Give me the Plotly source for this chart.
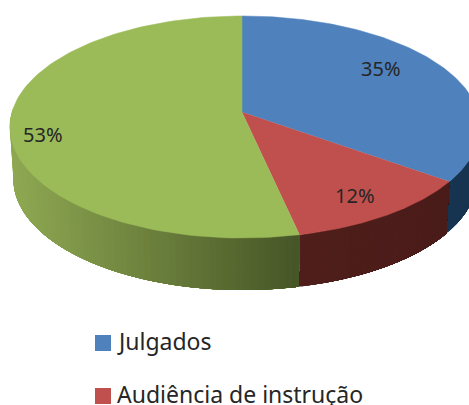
import math
import plotly.graph_objects as go

categories = ["Julgados", "Audiência de instrução", "Outros"]
values = [35.0, 11.6, 53.4]
top_colors = ["#4f81bd", "#c0504d", "#9bbb59"]
wall_light = [(23, 52, 80), (80, 31, 28), (142, 168, 82)]
wall_dark = [(23, 52, 80), (74, 28, 25), (70, 84, 38)]
legend_names = categories[:2]

CX, CY = 242, 112
A, B_R, B_L, K = 109, 236, 230, 0.135
DEPTH, SHRINK = 52, 0.985


def project(theta, lower=False):
    X, Y = math.sin(theta), math.cos(theta)
    d = 1 + K * Y
    x, y = (B_R if X > 0 else B_L) * X / d, -A * Y / d
    if lower:
        return CX + x * SHRINK, CY + y + DEPTH
    return CX + x, CY + y


fig = go.Figure()
total = sum(values)
edges = [0]
for v in values:
    edges.append(edges[-1] + v / total * 2 * math.pi)


def poly(pts, color, lw=0.0):
    fig.add_trace(go.Scatter(x=[p[0] for p in pts], y=[p[1] for p in pts], mode="lines", fill="toself",
                             fillcolor=color, line=dict(color=color, width=lw),
                             hoverinfo="skip", showlegend=False))


# side walls: front half only, shaded left to right; each strip overpaints the rest of the wall
vis_start, vis_end = math.radians(80), math.radians(272)
for i in range(3):
    a0, a1 = max(edges[i], vis_start), min(edges[i + 1], vis_end)
    x_hi, x_lo = project(a0)[0], project(a1)[0]
    n = 70
    for s in range(n):
        # walk from the clockwise end (left) back to the start (right)
        t = a1 - (a1 - a0) * s / n
        x_mid = project(t)[0]
        f = (x_mid - x_lo) / (x_hi - x_lo) if x_hi != x_lo else 0
        c = tuple(int(wall_light[i][k] + (wall_dark[i][k] - wall_light[i][k]) * f) for k in range(3))
        sub = [a0 + (t - a0) * q / 40 for q in range(41)]
        poly([project(u) for u in sub] + [project(u, True) for u in reversed(sub)], "rgb(%d,%d,%d)" % c)

# top face
for i in range(3):
    n = 120
    pts = [project(edges[i] + (edges[i + 1] - edges[i]) * q / n) for q in range(n + 1)]
    pts.append((CX, CY))
    poly(pts, top_colors[i], 0.5)

# percentage labels
lab_pos = [(381, 68), (355, 195), (43, 134)]
anns = []
for v, (x, y) in zip(values, lab_pos):
    anns.append(dict(x=x, y=y, xref="x", yref="y", text=f"{v:.0f}%", showarrow=False,
                     font=dict(family="Noto Sans", size=20, color="#262626")))

# legend
marker_y = [343, 396]
text_y = [341, 394]
fig.add_trace(go.Scatter(x=[103] * 2, y=marker_y, mode="markers",
                         marker=dict(symbol="square", size=16, color=top_colors[:2]),
                         hoverinfo="skip", showlegend=False))
for name, y in zip(legend_names, text_y):
    anns.append(dict(x=115, y=y, xref="x", yref="y", xanchor="left", text=name, showarrow=False,
                     font=dict(family="Noto Sans", size=23, color="#262626")))

fig.update_layout(
    width=469, height=405, margin=dict(l=0, r=0, t=0, b=0),
    paper_bgcolor="white", plot_bgcolor="white", annotations=anns,
    xaxis=dict(range=[0, 469], visible=False, fixedrange=True),
    yaxis=dict(range=[405, 0], visible=False, fixedrange=True),
)
fig.write_html("out.html", config={"displayModeBar": False},
               post_script="document.body.style.margin='0';document.documentElement.style.overflow='hidden';")
